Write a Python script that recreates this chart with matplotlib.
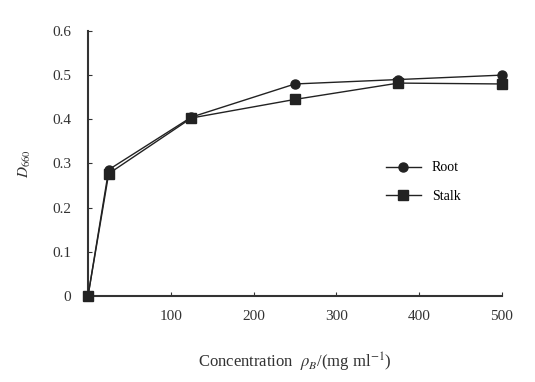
import matplotlib.pyplot as plt

plt.rcParams['font.family'] = ['Liberation Serif', 'DejaVu Serif']
plt.rcParams['mathtext.fontset'] = 'stix'

conc = [0, 25, 125, 250, 375, 500]
root = [0, 0.286, 0.405, 0.48, 0.49, 0.50]
stalk = [0, 0.277, 0.403, 0.445, 0.482, 0.48]
xticks = [100, 200, 300, 400, 500]
yticks = [0, 0.1, 0.2, 0.3, 0.4, 0.5, 0.6]

fig = plt.figure(figsize=(5.35, 3.82), dpi=100)
ax = fig.add_axes([0.1645, 0.225, 0.7735, 0.694])

ax.plot(conc, root, color='#222222', lw=1.0, marker='o', ms=6.5, label='Root', clip_on=False, zorder=3)
ax.plot(conc, stalk, color='#222222', lw=1.0, marker='s', ms=6.5, label='Stalk', clip_on=False, zorder=3)

ax.set_xlim(0, 500)
ax.set_ylim(0, 0.6)
ax.set_xticks(xticks)
ax.set_yticks(yticks)
ax.set_yticklabels(['0', '0.1', '0.2', '0.3', '0.4', '0.5', '0.6'])
ax.tick_params(direction='in', length=3, width=0.8, labelsize=11, colors='#333333', pad=10)
ax.tick_params(axis='y', pad=12)
for s in ['top', 'right']:
    ax.spines[s].set_visible(False)
for s in ['left', 'bottom']:
    ax.spines[s].set_linewidth(1.5)
    ax.spines[s].set_color('#333333')
for lab in ax.get_xticklabels() + ax.get_yticklabels():
    lab.set_color('#333333')

ax.set_ylabel(r'$D_{660}$', fontsize=11, color='#333333', labelpad=14)
ax.set_xlabel(r'Concentration  $\rho_B$/(mg ml$^{-1}$)', fontsize=12,
              color='#333333', labelpad=20)

ax.legend(loc='center left', bbox_to_anchor=(0.69, 0.43), frameon=False,
          fontsize=10, handlelength=2.5, labelspacing=1.1)

fig.savefig('out.png', dpi=100)
